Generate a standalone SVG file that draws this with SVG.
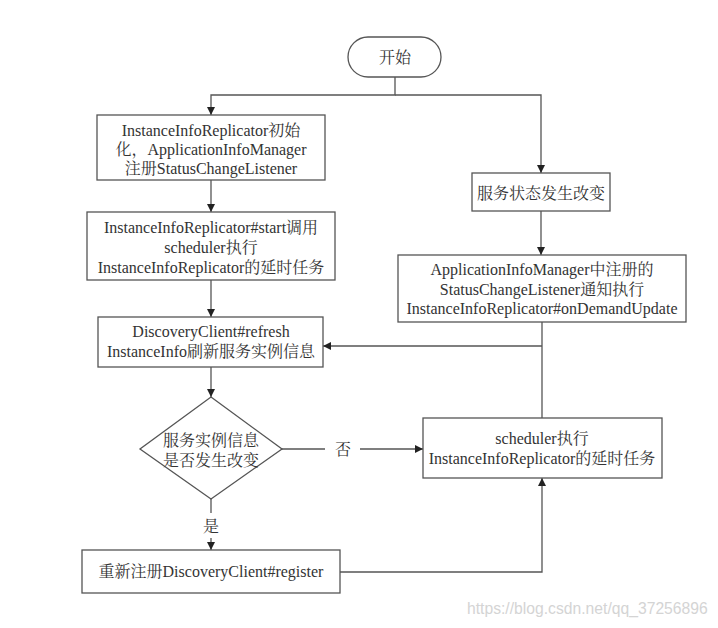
<svg xmlns="http://www.w3.org/2000/svg" width="718" height="628" viewBox="0 0 718 628">
<style>
.n{fill:#fff;stroke:#555;stroke-width:1.3}
.t{font-family:"Liberation Serif","Noto Serif CJK SC","Noto Sans CJK SC",serif;font-size:16px;fill:#333;text-anchor:middle}
.c{fill:none;stroke:#555;stroke-width:1.3}
.w{font-family:"Liberation Sans",Arial,sans-serif;font-size:15.7px;fill:#d4d4d4}
</style>
<defs>
<marker id="a" viewBox="0 0 10 10" refX="10" refY="5" markerWidth="8" markerHeight="8" markerUnits="userSpaceOnUse" orient="auto">
<path d="M0,0 L10,5 L0,10 Z" fill="#222"/>
</marker>
</defs>
<rect width="718" height="628" fill="#fff"/>
<g id="connectors">
<path class="c" d="M395,77 V95 H211 V115" marker-end="url(#a)"/>
<path class="c" d="M395,95 H541 V173" marker-end="url(#a)"/>
<path class="c" d="M541,211 V255" marker-end="url(#a)"/>
<path class="c" d="M211,180 V212" marker-end="url(#a)"/>
<path class="c" d="M211,280 V317" marker-end="url(#a)"/>
<path class="c" d="M542,322 V418"/>
<path class="c" d="M542,346 H323" marker-end="url(#a)"/>
<path class="c" d="M211,367 V397" marker-end="url(#a)"/>
<path class="c" d="M282,449 H325"/>
<path class="c" d="M360,449 H423" marker-end="url(#a)"/>
<text class="t" x="343" y="455">否</text>
<path class="c" d="M211,499 V513"/>
<path class="c" d="M211,538 V550" marker-end="url(#a)"/>
<text class="t" x="211" y="532">是</text>
<path class="c" d="M340,572 H542 V478" marker-end="url(#a)"/>
</g>
<g id="start">
<rect class="n" x="348" y="37" width="93" height="40" rx="20" ry="20"/>
<text class="t" x="395" y="63">开始</text>
</g>
<g id="init">
<rect class="n" x="97" y="115" width="228" height="65"/>
<text class="t" x="211" y="136">InstanceInfoReplicator初始</text>
<text class="t" x="211" y="155">化，ApplicationInfoManager</text>
<text class="t" x="211" y="174">注册StatusChangeListener</text>
</g>
<g id="startCall">
<rect class="n" x="87" y="212" width="248" height="68"/>
<text class="t" x="211" y="233">InstanceInfoReplicator#start调用</text>
<text class="t" x="211" y="253">scheduler执行</text>
<text class="t" x="211" y="273">InstanceInfoReplicator的延时任务</text>
</g>
<g id="refresh">
<rect class="n" x="98" y="317" width="225" height="50"/>
<text class="t" x="211" y="337">DiscoveryClient#refresh</text>
<text class="t" x="211" y="357">InstanceInfo刷新服务实例信息</text>
</g>
<g id="decision">
<path class="n" d="M211,397 L282,449 L211,499 L140,449 Z"/>
<text class="t" x="211" y="446">服务实例信息</text>
<text class="t" x="211" y="466">是否发生改变</text>
</g>
<g id="register">
<rect class="n" x="82" y="550" width="258" height="43"/>
<text class="t" x="211" y="577">重新注册DiscoveryClient#register</text>
</g>
<g id="statusChange">
<rect class="n" x="472" y="173" width="138" height="38"/>
<text class="t" x="541" y="199">服务状态发生改变</text>
</g>
<g id="notify">
<rect class="n" x="398" y="255" width="288" height="67"/>
<text class="t" x="542" y="275">ApplicationInfoManager中注册的</text>
<text class="t" x="542" y="295">StatusChangeListener通知执行</text>
<text class="t" x="542" y="314">InstanceInfoReplicator#onDemandUpdate</text>
</g>
<g id="scheduler">
<rect class="n" x="423" y="418" width="239" height="60"/>
<text class="t" x="542" y="444">scheduler执行</text>
<text class="t" x="542" y="464">InstanceInfoReplicator的延时任务</text>
</g>
<text class="w" x="467" y="614">https://blog.csdn.net/qq_37256896</text>
</svg>
